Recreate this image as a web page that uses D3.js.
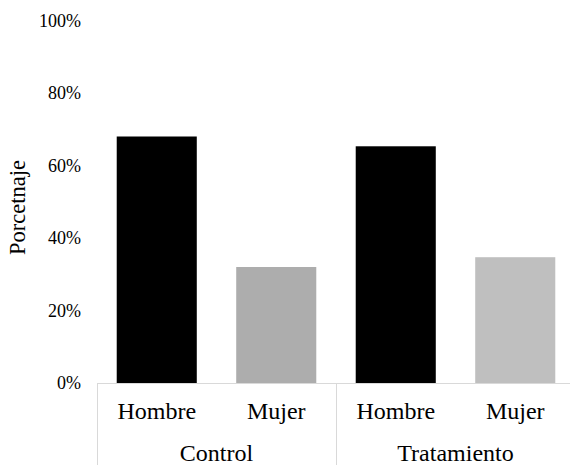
<!DOCTYPE html>
<html>
<head>
<meta charset="utf-8">
<script src="https://cdn.jsdelivr.net/npm/d3@7/dist/d3.min.js"></script>
<style>
  html, body { margin: 0; padding: 0; background: #fff; }
  svg { display: block; }
</style>
</head>
<body>
<svg id="chart" width="570" height="465"></svg>
<script>
// Share of men and women in each study group
const groups = ["Control", "Tratamiento"];
const sexes = ["Hombre", "Mujer"];
const values = [68.0, 32.0, 65.3, 34.7];
const barColors = ["#000000", "#adadad", "#000000", "#bfbfbf"];
const yTicks = [0, 20, 40, 60, 80, 100];
const yTitle = "Porcetnaje";

const serif = "'Liberation Serif', 'Times New Roman', Times, serif";

const rows = [];
groups.forEach((g, gi) => sexes.forEach((s, si) => {
  const i = gi * sexes.length + si;
  rows.push({ key: g + "|" + s, group: g, sex: s, value: values[i], color: barColors[i] });
}));

const svg = d3.select("#chart");
const plotLeft = 97, plotRight = 575, plotTop = 20.5, plotBottom = 383;

const x = d3.scaleBand()
  .domain(rows.map(d => d.key))
  .range([plotLeft, plotRight])
  .paddingInner(0.33)
  .paddingOuter(0.165);

const y = d3.scaleLinear().domain([0, 100]).range([plotBottom, plotTop]);

// bars
svg.append("g").selectAll("rect")
  .data(rows)
  .join("rect")
  .attr("x", d => x(d.key))
  .attr("width", x.bandwidth())
  .attr("y", d => y(d.value))
  .attr("height", d => y(0) - y(d.value))
  .attr("fill", d => d.color);

// y tick labels (no axis line)
const yAxis = d3.axisLeft(y)
  .tickValues(yTicks)
  .tickFormat(d => d + "%")
  .tickSize(0)
  .tickPadding(0);
const gy = svg.append("g").attr("transform", `translate(81,0)`).call(yAxis);
gy.select(".domain").remove();
gy.attr("font-family", null).attr("font-size", null);
gy.selectAll("text")
  .style("font-family", serif)
  .style("font-size", "18px")
  .attr("fill", "#000")
  .attr("dy", "0.33em");

// category axis: baseline and group separators
const gridColor = "#d9d9d9";
const step = x.step();
svg.append("line")
  .attr("x1", plotLeft).attr("x2", plotRight)
  .attr("y1", plotBottom + 0.5).attr("y2", plotBottom + 0.5)
  .attr("stroke", gridColor).attr("stroke-width", 1);

const sepX = [plotLeft];
groups.forEach((g, gi) => sepX.push(plotLeft + step * sexes.length * (gi + 1)));
svg.append("g").selectAll("line")
  .data(sepX)
  .join("line")
  .attr("x1", d => Math.round(d) + 0.5).attr("x2", d => Math.round(d) + 0.5)
  .attr("y1", plotBottom).attr("y2", 465)
  .attr("stroke", gridColor).attr("stroke-width", 1);

// sex labels
svg.append("g").selectAll("text")
  .data(rows)
  .join("text")
  .attr("x", d => x(d.key) + x.bandwidth() / 2)
  .attr("y", 419)
  .attr("text-anchor", "middle")
  .style("font-family", serif)
  .style("font-size", "24px")
  .text(d => d.sex);

// group labels
svg.append("g").selectAll("text")
  .data(groups)
  .join("text")
  .attr("x", (g, gi) => plotLeft + step * sexes.length * (gi + 0.5))
  .attr("y", 461)
  .attr("text-anchor", "middle")
  .style("font-family", serif)
  .style("font-size", "24px")
  .text(d => d);

// y axis title
svg.append("text")
  .attr("transform", "translate(25,207.5) rotate(-90)")
  .attr("text-anchor", "middle")
  .style("font-family", serif)
  .style("font-size", "22.5px")
  .text(yTitle);
</script>
</body>
</html>
